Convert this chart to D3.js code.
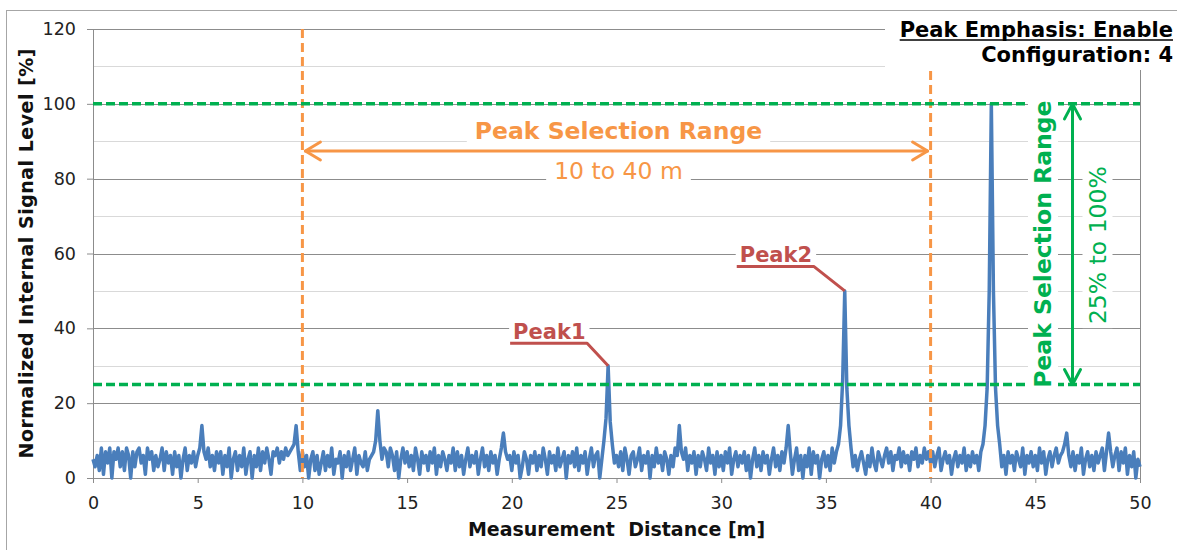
<!DOCTYPE html>
<html><head><meta charset="utf-8">
<script src="https://cdn.jsdelivr.net/npm/d3@7"></script>
<style>
html,body{margin:0;padding:0;background:#fff;}
svg{display:block;}
</style></head><body>
<svg id="chart" width="1177" height="550"></svg>
<script>
// ---------- data ----------
const xTicks = [0, 5, 10, 15, 20, 25, 30, 35, 40, 45, 50];
const yTicks = [0, 20, 40, 60, 80, 100, 120];
const yMinorTicks = [10, 30, 50, 70, 90, 110];
const sampleStep = 0.1; // m between samples
const signal = [
 5,3,6,2,8,1,7,4,8,0,
 7,5,8,3,7,2,8,6,0,7,
 3,7,8,4,6,1,8,5,7,2,
 6,3,5,8,2,7,4,6,1,7,
 3,6,0,5,8,2,6,4,7,3,
 6,8,14,7,5,8,3,6,2,7,
 4,7,1,6,3,8,0,5,7,2,
 6,3,8,1,5,7,0,6,3,8,
 2,7,4,8,5,1,7,6,8,4,
 7,5,8,6,7,8,9,14,7,2,
 7,3,6,0,5,7,2,6,1,4,
 7,2,6,3,8,1,5,4,7,0,
 6,3,7,2,5,8,1,6,4,3,
 7,2,5,6,7,10,18,10,5,8,
 7,3,8,6,2,7,0,5,8,4,
 7,3,6,2,8,5,1,7,4,6,
 2,7,4,8,1,6,3,7,5,2,
 6,4,8,2,7,3,6,1,5,8,
 3,6,4,7,1,5,8,3,6,2,
 7,4,6,1,5,8,12,7,5,6,
 2,7,4,6,0,3,7,5,1,6,
 4,7,2,6,3,8,5,1,7,4,
 6,2,8,3,5,7,0,6,4,7,
 3,8,2,6,4,7,1,5,8,3,
 6,7,0,5,10,16,30,15,9,4,
 6,3,7,2,8,5,1,6,7,3,
 5,8,2,6,4,7,0,6,3,8,
 4,6,2,7,5,1,6,3,8,6,
 14,7,5,8,2,6,4,7,1,6,
 3,7,5,2,8,4,6,1,7,3,
 6,2,7,4,8,1,5,7,3,6,
 4,7,2,6,0,5,8,3,6,2,
 7,4,6,1,5,8,3,6,2,7,
 4,8,14,7,1,5,8,2,6,0,
 6,3,8,1,7,4,6,0,5,7,
 3,6,2,8,4,7,9,14,26,50,
 24,14,8,3,6,2,5,7,4,1,
 6,3,8,4,2,7,5,3,6,8,
 4,7,2,6,5,8,3,7,4,6,
 2,7,5,8,3,6,4,8,5,7,
 4,7,3,6,8,2,5,7,4,6,
 1,5,7,3,6,4,8,2,6,3,
 7,4,6,2,7,9,14,24,50,100,
 50,24,14,9,3,6,1,7,4,6,
 2,7,5,3,8,1,6,4,7,3,
 6,2,8,4,7,1,5,7,3,6,
 8,4,6,7,9,12,6,3,7,2,
 6,4,8,1,5,7,3,6,2,7,
 4,6,8,2,7,12,7,3,6,8,
 2,7,4,8,1,6,3,7,0,5,
 3
];
const distanceRange = [10, 40];   // m
const levelRange = [25, 100];     // %
const peakNames = ["Peak1", "Peak2"];
const peakDistances = [24.6, 35.9];
const peakLevels = [30, 50];
const xTitle = "Measurement  Distance [m]";
const yTitle = "Normalized Internal Signal Level [%]";
const infoLines = ["Peak Emphasis: Enable", "Configuration: 4"];
const rangeTitle = "Peak Selection Range";
const distanceRangeText = "10 to 40 m";
const levelRangeText = "25% to 100%";

// ---------- layout ----------
const FONT = '"DejaVu Sans", Verdana, sans-serif';
const ORANGE = "#F79646", GREEN = "#00B050", RED = "#C0504D", BLUE = "#4A7EBB";
const AX = "#8C8C8C", MINOR = "#D9D9D9";
const m = {left: 93, right: 1140, top: 29, bottom: 478};

const svg = d3.select("#chart").style("font-family", FONT);
const x = d3.scaleLinear().domain([0, 50]).range([m.left, m.right]);
const y = d3.scaleLinear().domain([0, 120]).range([m.bottom, m.top]);
const px = v => Math.round(v) + 0.5;

// chart border
svg.append("rect").attr("x", 6.5).attr("y", 10.5).attr("width", 1300).attr("height", 700)
  .attr("fill", "#fff").attr("stroke", "#A6A6A6").attr("stroke-width", 1);

// gridlines
svg.append("g").selectAll("line").data(yMinorTicks).join("line")
  .attr("x1", m.left).attr("x2", m.right)
  .attr("y1", d => px(y(d))).attr("y2", d => px(y(d)))
  .attr("stroke", MINOR).attr("stroke-width", 1);
svg.append("g").selectAll("line").data(yTicks.filter(d => d > 0)).join("line")
  .attr("x1", m.left).attr("x2", m.right)
  .attr("y1", d => px(y(d))).attr("y2", d => px(y(d)))
  .attr("stroke", AX).attr("stroke-width", 1);
// right edge of plot
svg.append("line").attr("x1", px(m.right)).attr("x2", px(m.right))
  .attr("y1", y(120)).attr("y2", y(0)).attr("stroke", AX);

// axes
const gy = svg.append("g").attr("transform", `translate(${Math.round(m.left)},0)`)
  .call(d3.axisLeft(y).tickValues(yTicks).tickSize(6).tickSizeOuter(0).tickPadding(11));
gy.attr("font-family", FONT).attr("font-size", 17.5);
gy.select(".domain").attr("stroke", AX);
gy.selectAll(".tick line").attr("stroke", AX);
gy.selectAll(".tick text").attr("fill", "#222");

const gx = svg.append("g").attr("transform", `translate(0,${Math.round(m.bottom)})`)
  .call(d3.axisBottom(x).tickValues(xTicks).tickSize(5).tickSizeOuter(0));
gx.attr("font-family", FONT).attr("font-size", 17.5);
gx.select(".domain").attr("stroke", AX);
gx.selectAll(".tick line").attr("stroke", AX);
gx.selectAll(".tick text").attr("fill", "#222").attr("y", 31).attr("dy", 0);

// axis titles
svg.append("text").attr("x", 616.5).attr("y", 536).attr("text-anchor", "middle")
  .attr("font-weight", "bold").attr("font-size", 19).style("white-space", "pre")
  .attr("fill", "#111").text(xTitle);
svg.append("text").attr("transform", "translate(32.5,253.5) rotate(-90)").attr("text-anchor", "middle")
  .attr("font-weight", "bold").attr("font-size", 19).attr("fill", "#111")
  .attr("textLength", 410).attr("lengthAdjust", "spacing").text(yTitle);

// signal
svg.append("path").datum(signal)
  .attr("d", d3.line().x((d, i) => x(i * sampleStep)).y(d => y(d)))
  .attr("fill", "none").attr("stroke", BLUE).attr("stroke-width", 3.5)
  .attr("stroke-linejoin", "round");

// range lines
svg.append("g").selectAll("line").data(distanceRange).join("line")
  .attr("x1", d => x(d)).attr("x2", d => x(d)).attr("y1", y(120)).attr("y2", y(0))
  .attr("stroke", ORANGE).attr("stroke-width", 3).attr("stroke-dasharray", "9,5");
svg.append("g").selectAll("line").data(levelRange).join("line")
  .attr("x1", x(0)).attr("x2", x(50)).attr("y1", d => y(d)).attr("y2", d => y(d))
  .attr("stroke", GREEN).attr("stroke-width", 3.5).attr("stroke-dasharray", "9,4");

// white-boxed label helper
function boxedText(parent, txt, opts) {
  const g = parent.append("g").attr("transform", opts.transform || null);
  const r = g.append("rect").attr("fill", "#fff");
  const t = g.append("text").attr("x", opts.x || 0).attr("y", opts.y || 0)
    .attr("text-anchor", opts.anchor || "middle").attr("font-size", opts.size)
    .attr("font-weight", opts.bold ? "bold" : "normal").attr("fill", opts.color).text(txt);
  const b = t.node().getBBox();
  const p = opts.pad || 4;
  r.attr("x", b.x - p).attr("y", b.y - 1).attr("width", b.width + 2 * p).attr("height", b.height + 2);
  return t;
}

// horizontal orange arrow
const arrowY = 151;
const ax1 = x(distanceRange[0]) + 3, ax2 = x(distanceRange[1]) - 3;
const arrows = svg.append("g").attr("fill", "none").attr("stroke-linecap", "round").attr("stroke-linejoin", "round");
arrows.append("path").attr("d", `M${ax1},${arrowY}H${ax2}`).attr("stroke", ORANGE).attr("stroke-width", 3);
arrows.append("path").attr("d", `M${ax1 + 15},${arrowY - 9}L${ax1},${arrowY}L${ax1 + 15},${arrowY + 9}`).attr("stroke", ORANGE).attr("stroke-width", 3);
arrows.append("path").attr("d", `M${ax2 - 15},${arrowY - 9}L${ax2},${arrowY}L${ax2 - 15},${arrowY + 9}`).attr("stroke", ORANGE).attr("stroke-width", 3);

// vertical green arrow
const arrowX = 1072.5;
const ay1 = y(levelRange[1]), ay2 = y(levelRange[0]);
arrows.append("path").attr("d", `M${arrowX},${ay1}V${ay2}`).attr("stroke", GREEN).attr("stroke-width", 3);
arrows.append("path").attr("d", `M${arrowX - 8},${ay1 + 15}L${arrowX},${ay1}L${arrowX + 8},${ay1 + 15}`).attr("stroke", GREEN).attr("stroke-width", 3);
arrows.append("path").attr("d", `M${arrowX - 8},${ay2 - 15}L${arrowX},${ay2}L${arrowX + 8},${ay2 - 15}`).attr("stroke", GREEN).attr("stroke-width", 3);

// range texts
const cx = (x(distanceRange[0]) + x(distanceRange[1])) / 2 + 2;
boxedText(svg, rangeTitle, {x: cx, y: 139, size: 23.5, bold: true, color: ORANGE, pad: 8});
boxedText(svg, distanceRangeText, {x: cx, y: 179, size: 23.5, color: ORANGE, pad: 8});
const cy = (y(levelRange[0]) + y(levelRange[1])) / 2;
boxedText(svg, rangeTitle, {transform: `translate(1051,${cy}) rotate(-90)`, size: 23.5, bold: true, color: GREEN, pad: 2});
boxedText(svg, levelRangeText, {transform: `translate(1105.5,${cy + 1}) rotate(-90)`, size: 23.5, color: GREEN, pad: 4});

// peak labels with leader lines
const leaderOffsets = [[-21, -22.5], [-31, -24.5]];
peakNames.forEach((name, i) => {
  const tx = x(peakDistances[i]), ty = y(peakLevels[i]);
  const ex = tx + leaderOffsets[i][0], ey = ty + leaderOffsets[i][1];
  const sx = ex - 77;
  boxedText(svg, name, {x: sx + 3, y: ey - 4.5, anchor: "start", size: 21, bold: true, color: RED, pad: 4});
  svg.append("path").attr("d", `M${sx},${ey}H${ex}L${tx},${ty}`)
    .attr("fill", "none").attr("stroke", RED).attr("stroke-width", 3).attr("stroke-linejoin", "round");
});

// top-right info box
svg.append("rect").attr("x", 885).attr("y", 12).attr("width", 300).attr("height", 58).attr("fill", "#fff");
const info1 = svg.append("text").attr("x", 1173).attr("y", 37).attr("text-anchor", "end")
  .attr("font-size", 21).attr("font-weight", "bold").attr("fill", "#000").text(infoLines[0]);
const b1 = info1.node().getBBox();
svg.append("line").attr("x1", b1.x).attr("x2", b1.x + b1.width).attr("y1", 40).attr("y2", 40)
  .attr("stroke", "#000").attr("stroke-width", 1.5);
svg.append("text").attr("x", 1173).attr("y", 62).attr("text-anchor", "end")
  .attr("font-size", 21).attr("font-weight", "bold").attr("fill", "#000").text(infoLines[1]);
</script>
</body></html>
